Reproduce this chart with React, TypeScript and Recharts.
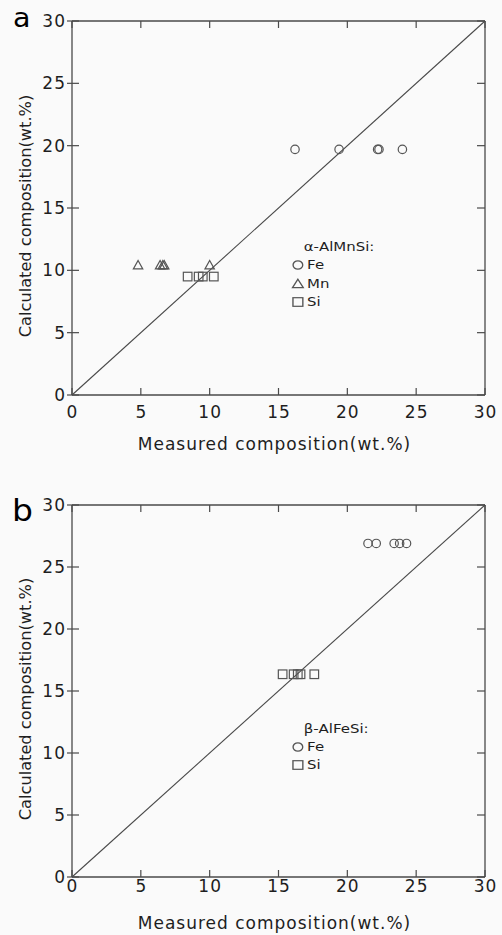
import React from 'react';
import { ScatterChart, Scatter, XAxis, YAxis, ReferenceLine, Legend } from 'recharts';

const FONT = '"DejaVu Sans", sans-serif';
const INK = '#1e1e1e';
const LINE = '#4a4a4a';
const MARK = '#555555';

const axisTicks = [0, 5, 10, 15, 20, 25, 30];
const axisDomain: [number, number] = [0, 30];
const xTitle = 'Measured composition(wt.%)';
const yTitle = 'Calculated composition(wt.%)';
const identityLine = [{ x: 0, y: 0 }, { x: 30, y: 30 }];

// Panel a: alpha-AlMnSi
const alphaTitle = 'α-AlMnSi:';
const alphaFeMeasured = [16.2, 19.4, 22.2, 22.3, 24.0];
const alphaFeCalculated = 19.7;
const alphaMnMeasured = [4.8, 6.4, 6.6, 6.7, 10.0];
const alphaMnCalculated = 10.4;
const alphaSiMeasured = [8.4, 9.2, 9.5, 10.3];
const alphaSiCalculated = 9.5;

// Panel b: beta-AlFeSi
const betaTitle = 'β-AlFeSi:';
const betaFeMeasured = [21.5, 22.1, 23.4, 23.8, 24.3];
const betaFeCalculated = 26.9;
const betaSiMeasured = [15.3, 16.1, 16.4, 16.6, 17.6];
const betaSiCalculated = 16.35;

type MarkerKind = 'circle' | 'triangle' | 'square';
type Series = { name: string; marker: MarkerKind; data: { x: number; y: number }[] };

const toPoints = (measured: number[], calculated: number) =>
  measured.map((x) => ({ x, y: calculated }));

const alphaSeries: Series[] = [
  { name: 'Fe', marker: 'circle', data: toPoints(alphaFeMeasured, alphaFeCalculated) },
  { name: 'Mn', marker: 'triangle', data: toPoints(alphaMnMeasured, alphaMnCalculated) },
  { name: 'Si', marker: 'square', data: toPoints(alphaSiMeasured, alphaSiCalculated) },
];
const betaSeries: Series[] = [
  { name: 'Fe', marker: 'circle', data: toPoints(betaFeMeasured, betaFeCalculated) },
  { name: 'Si', marker: 'square', data: toPoints(betaSiMeasured, betaSiCalculated) },
];

const TICK_IN = 7;

function Glyph({ kind, cx, cy }: { kind: MarkerKind; cx: number; cy: number }) {
  if (kind === 'circle') {
    return <circle cx={cx} cy={cy} r={4.2} fill="none" stroke={MARK} strokeWidth={1.2} />;
  }
  if (kind === 'triangle') {
    const d = `M${cx},${cy - 4.8} L${cx + 4.7},${cy + 3.6} L${cx - 4.7},${cy + 3.6} Z`;
    return <path d={d} fill="none" stroke={MARK} strokeWidth={1.2} strokeLinejoin="miter" />;
  }
  return <rect x={cx - 4.3} y={cy - 4.3} width={8.6} height={8.6} fill="none" stroke={MARK} strokeWidth={1.2} />;
}

const makeShape = (kind: MarkerKind) => (p: any) => <Glyph kind={kind} cx={p.cx} cy={p.cy} />;
const hiddenShape = () => <g />;

// bottom axis: label below, inward tick line drawn from the axis
const bottomTick = (gap: number) => (p: any) => (
  <g>
    <line x1={p.x} x2={p.x} y1={p.y - gap} y2={p.y - gap - TICK_IN} stroke={LINE} strokeWidth={1.2} />
    <text
      x={p.x + 0.5}
      y={p.y}
      dy="0.71em"
      textAnchor="middle"
      fontFamily={FONT}
      fontSize={17}
      letterSpacing={1}
      fill={INK}
    >
      {p.payload.value}
    </text>
  </g>
);

// left axis: label on the left, inward tick continuing past the axis
const leftTick = (outward: number, margin: number) => (p: any) => (
  <g>
    <line
      x1={p.x + outward + margin}
      x2={p.x + outward + margin + TICK_IN}
      y1={p.y}
      y2={p.y}
      stroke={LINE}
      strokeWidth={1.2}
    />
    <text
      x={p.x}
      y={p.y}
      dy="0.355em"
      textAnchor="end"
      fontFamily={FONT}
      fontSize={17}
      letterSpacing={1}
      fill={INK}
    >
      {p.payload.value}
    </text>
  </g>
);

// top / right frame axes (mirrored): only inward tick lines
const topTick = (p: any) => (
  <line x1={p.x} x2={p.x} y1={p.y} y2={p.y + TICK_IN} stroke={LINE} strokeWidth={1.2} />
);
const rightTick = (p: any) => (
  <line x1={p.x} x2={p.x - 8} y1={p.y} y2={p.y} stroke={LINE} strokeWidth={1.2} />
);

const makeLegend = (title: string, series: Series[]) => (props: any) => {
  const payload: any[] = (props.payload || []).filter((e: any) =>
    series.some((s) => s.name === e.value)
  );
  return (
    <div
      style={{
        fontFamily: FONT,
        fontSize: 13,
        color: INK,
        transform: 'scaleX(1.15)',
        transformOrigin: 'left top',
        whiteSpace: 'nowrap',
      }}
    >
      <div style={{ height: 19, lineHeight: '19px', paddingLeft: 11 }}>{title}</div>
      {payload.map((entry, i) => {
        const s = series.find((q) => q.name === entry.value) || series[i];
        return (
          <div key={i} style={{ height: 18.5, display: 'flex', alignItems: 'center' }}>
            <svg width={12} height={12} style={{ display: 'block' }}>
              <Glyph kind={s.marker} cx={6} cy={6} />
            </svg>
            <span style={{ marginLeft: 2, lineHeight: '18px' }}>{entry.value}</span>
          </div>
        );
      })}
    </div>
  );
};

const xTitleLabel = (gap: number) => (p: any) => {
  const vb = p.viewBox || {};
  return (
    <text
      x={vb.x + vb.width / 2 - 4}
      y={vb.y + gap}
      textAnchor="middle"
      dominantBaseline="hanging"
      fontFamily={FONT}
      fontSize={17}
      letterSpacing={1}
      fill={INK}
    >
      {xTitle}
    </text>
  );
};

const yTitleLabel = (p: any) => {
  const vb = p.viewBox || {};
  const cx = vb.x + 25;
  const cy = vb.y + vb.height / 2 + 8;
  return (
    <text
      x={cx}
      y={cy}
      transform={`rotate(-90, ${cx}, ${cy})`}
      textAnchor="middle"
      dominantBaseline="central"
      fontFamily={FONT}
      fontSize={16.2}
      fill={INK}
    >
      {yTitle}
    </text>
  );
};

type PanelProps = {
  letter: string;
  letterSize: number;
  letterTop: number;
  letterLeft: number;
  top: number;
  height: number;
  marginTop: number;
  xAxisHeight: number;
  tickGap: number;
  titleGap: number;
  legendTitle: string;
  legendLeft: number;
  legendTop: number;
  series: Series[];
};

function Panel(props: PanelProps) {
  const axisLine = { stroke: LINE, strokeWidth: 1.3 };
  const tickLine = { stroke: LINE, strokeWidth: 1.2 };
  return (
    <div style={{ position: 'absolute', left: 0, top: props.top, width: 502, height: props.height }}>
      <ScatterChart
        width={502}
        height={props.height}
        margin={{ top: props.marginTop, right: 17, bottom: 0, left: 0 }}
      >
        <XAxis
          xAxisId="x"
          dataKey="x"
          type="number"
          domain={axisDomain}
          ticks={axisTicks}
          interval={0}
          allowDataOverflow
          height={props.xAxisHeight}
          tickLine={false}
          tickSize={0}
          tickMargin={props.tickGap}
          axisLine={axisLine}
          tick={bottomTick(props.tickGap)}
          label={xTitleLabel(props.titleGap)}
        />
        <XAxis
          xAxisId="xtop"
          dataKey="x"
          type="number"
          domain={axisDomain}
          ticks={axisTicks}
          interval={0}
          allowDataOverflow
          orientation="top"
          mirror
          tickLine={false}
          tickSize={0}
          tickMargin={0}
          tick={topTick}
          axisLine={axisLine}
        />
        <YAxis
          yAxisId="y"
          dataKey="y"
          type="number"
          domain={axisDomain}
          ticks={axisTicks}
          interval={0}
          allowDataOverflow
          width={72}
          tickSize={5}
          tickMargin={1}
          tickLine={tickLine}
          axisLine={axisLine}
          tick={leftTick(5, 1)}
          label={yTitleLabel}
        />
        <YAxis
          yAxisId="yright"
          dataKey="y"
          type="number"
          domain={axisDomain}
          ticks={axisTicks}
          interval={0}
          allowDataOverflow
          orientation="right"
          mirror
          tickLine={false}
          tickSize={0}
          tickMargin={0}
          tick={rightTick}
          axisLine={axisLine}
        />
        <ReferenceLine
          xAxisId="x"
          yAxisId="y"
          segment={identityLine}
          stroke={LINE}
          strokeWidth={1.1}
          ifOverflow="visible"
        />
        <Scatter
          name="frame"
          xAxisId="xtop"
          yAxisId="yright"
          data={identityLine}
          shape={hiddenShape}
          legendType="none"
          isAnimationActive={false}
        />
        {props.series.map((s) => (
          <Scatter
            key={s.name}
            name={s.name}
            xAxisId="x"
            yAxisId="y"
            data={s.data}
            shape={makeShape(s.marker)}
            isAnimationActive={false}
          />
        ))}
        <Legend
          layout="vertical"
          align="center"
          verticalAlign="middle"
          content={makeLegend(props.legendTitle, props.series)}
          wrapperStyle={{ left: props.legendLeft, top: props.legendTop, width: 'auto', height: 'auto' }}
        />
      </ScatterChart>
      <div
        style={{
          position: 'absolute',
          left: props.letterLeft,
          top: props.letterTop,
          fontFamily: FONT,
          fontSize: props.letterSize,
          lineHeight: 1,
          color: '#000',
          transform: 'scaleX(1.1)',
          transformOrigin: 'left top',
        }}
      >
        {props.letter}
      </div>
    </div>
  );
}

export default function App() {
  return (
    <div
      style={{
        position: 'absolute',
        left: 0,
        top: 0,
        width: 502,
        height: 935,
        background: '#fafafa',
        overflow: 'hidden',
      }}
    >
      <Panel
        letter="a"
        letterSize={26}
        letterTop={5}
        letterLeft={13}
        top={0}
        height={467}
        marginTop={21}
        xAxisHeight={72}
        tickGap={11}
        titleGap={42}
        legendTitle={alphaTitle}
        legendLeft={291}
        legendTop={237}
        series={alphaSeries}
      />
      <Panel
        letter="b"
        letterSize={30}
        letterTop={29}
        letterLeft={12}
        top={467}
        height={468}
        marginTop={38}
        xAxisHeight={58}
        tickGap={3}
        titleGap={39}
        legendTitle={betaTitle}
        legendLeft={291}
        legendTop={251.5}
        series={betaSeries}
      />
    </div>
  );
}
